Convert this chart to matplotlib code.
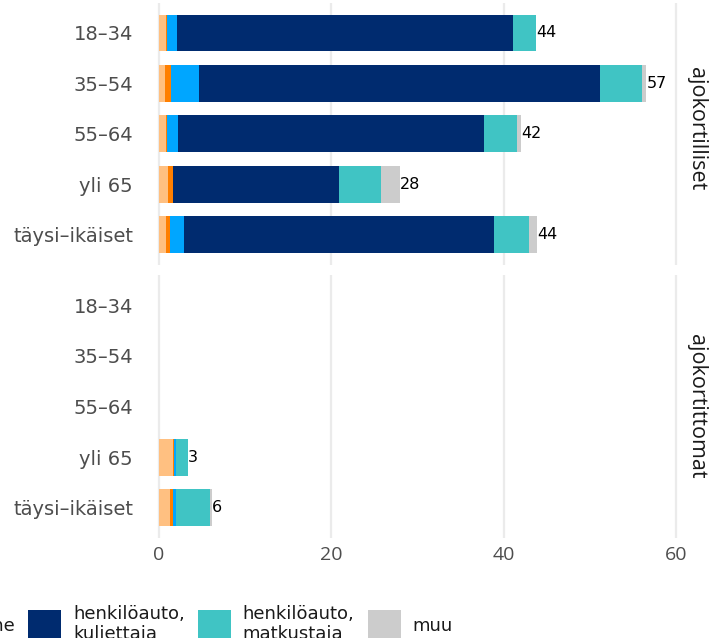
import matplotlib.pyplot as plt
from matplotlib.patches import Patch
import numpy as np

# Age groups (top to bottom) and the two facets
groups = ["18–34", "35–54", "55–64", "yli 65", "täysi–ikäiset"]
facets = ["ajokortilliset", "ajokortittomat"]

# Travel modes, in stacking order
modes = ["kävely", "polkupyörä", "joukkoliikenne",
         "henkilöauto,\nkuljettaja", "henkilöauto,\nmatkustaja", "muu"]
colors = ["#FFC081", "#FF7F00", "#00A6FF", "#002B6F", "#40C4C4", "#CCCCCC"]

# Values per mode, one list per facet (rows follow groups)
licence = {
    "kävely":         [0.8, 0.7, 0.85, 1.0, 0.8],
    "polkupyörä":     [0.1, 0.7, 0.1, 0.6, 0.45],
    "joukkoliikenne": [1.2, 3.2, 1.2, 0.05, 1.6],
    "henkilöauto,\nkuljettaja": [39.0, 46.6, 35.6, 19.2, 36.0],
    "henkilöauto,\nmatkustaja": [2.7, 4.8, 3.8, 4.9, 4.1],
    "muu":            [0.0, 0.55, 0.45, 2.2, 0.9],
}
no_licence = {
    "kävely":         [0, 0, 0, 1.65, 1.3],
    "polkupyörä":     [0, 0, 0, 0.05, 0.35],
    "joukkoliikenne": [0, 0, 0, 0.25, 0.35],
    "henkilöauto,\nkuljettaja": [0, 0, 0, 0.0, 0.0],
    "henkilöauto,\nmatkustaja": [0, 0, 0, 1.4, 3.95],
    "muu":            [0, 0, 0, 0.0, 0.2],
}

W, H = 722, 638
fig = plt.figure(figsize=(W / 100, H / 100), dpi=100)

# panel boxes in pixels: (top, bottom), and where the strip text sits
panels = [(2.7, 265), (275, 538)]
strip_y = [0.52, 0.5]
left_px, right_px = 140, 680

y = np.arange(len(groups))
for i, (data, facet) in enumerate(zip([licence, no_licence], facets)):
    top, bot = panels[i]
    ax = fig.add_axes([left_px / W, 1 - bot / H, (right_px - left_px) / W, (bot - top) / H])
    left = np.zeros(len(groups))
    for mode, col in zip(modes, colors):
        vals = np.array(data[mode], dtype=float)
        ax.barh(y, vals, left=left, height=0.73, color=col, linewidth=0, zorder=2)
        left += vals
    # total at the end of each bar
    for yi, tot in zip(y, left):
        if tot > 0:
            ax.text(tot, yi, f"{round(tot)}", ha="left", va="center",
                    fontsize=11.5, color="black", family="DejaVu Sans")

    ax.set_xlim(-2.205, 60.46)
    ax.set_ylim(len(groups) - 0.4, -0.6)
    ax.set_yticks(y)
    ax.set_yticklabels(groups, fontsize=14, color="#4D4D4D", family="DejaVu Sans")
    ax.set_xticks([0, 20, 40, 60])
    ax.grid(True, axis="x", color="#EBEBEB", linewidth=1.6, zorder=0)
    ax.tick_params(length=0, pad=5)
    for s in ax.spines.values():
        s.set_visible(False)
    if i == 0:
        ax.set_xticklabels([])
    else:
        ax.set_xticklabels(["0", "20", "40", "60"], fontsize=14, color="#4D4D4D",
                           family="Open Sans")
        ax.tick_params(axis="x", pad=6)
    ax.text(1.03, strip_y[i], facet, transform=ax.transAxes, rotation=-90,
            ha="center", va="center", fontsize=15.5, color="#1A1A1A", family="Open Sans")

# legend is wider than the figure, its left part falls off the edge
handles = [Patch(facecolor=c, edgecolor="none") for c in colors]
leg = fig.legend(handles, modes, loc="upper right", ncol=6,
                 bbox_to_anchor=(453 / W, 1 - 605 / H), frameon=False,
                 prop={"family": "DejaVu Sans", "size": 13},
                 handlelength=1.83, handleheight=2.3, handletextpad=0.67,
                 columnspacing=0.72, borderpad=0, borderaxespad=0)
for t in leg.get_texts():
    t.set_linespacing(1.15)
    t.set_color("#1A1A1A")

fig.savefig("out.png", dpi=100)
